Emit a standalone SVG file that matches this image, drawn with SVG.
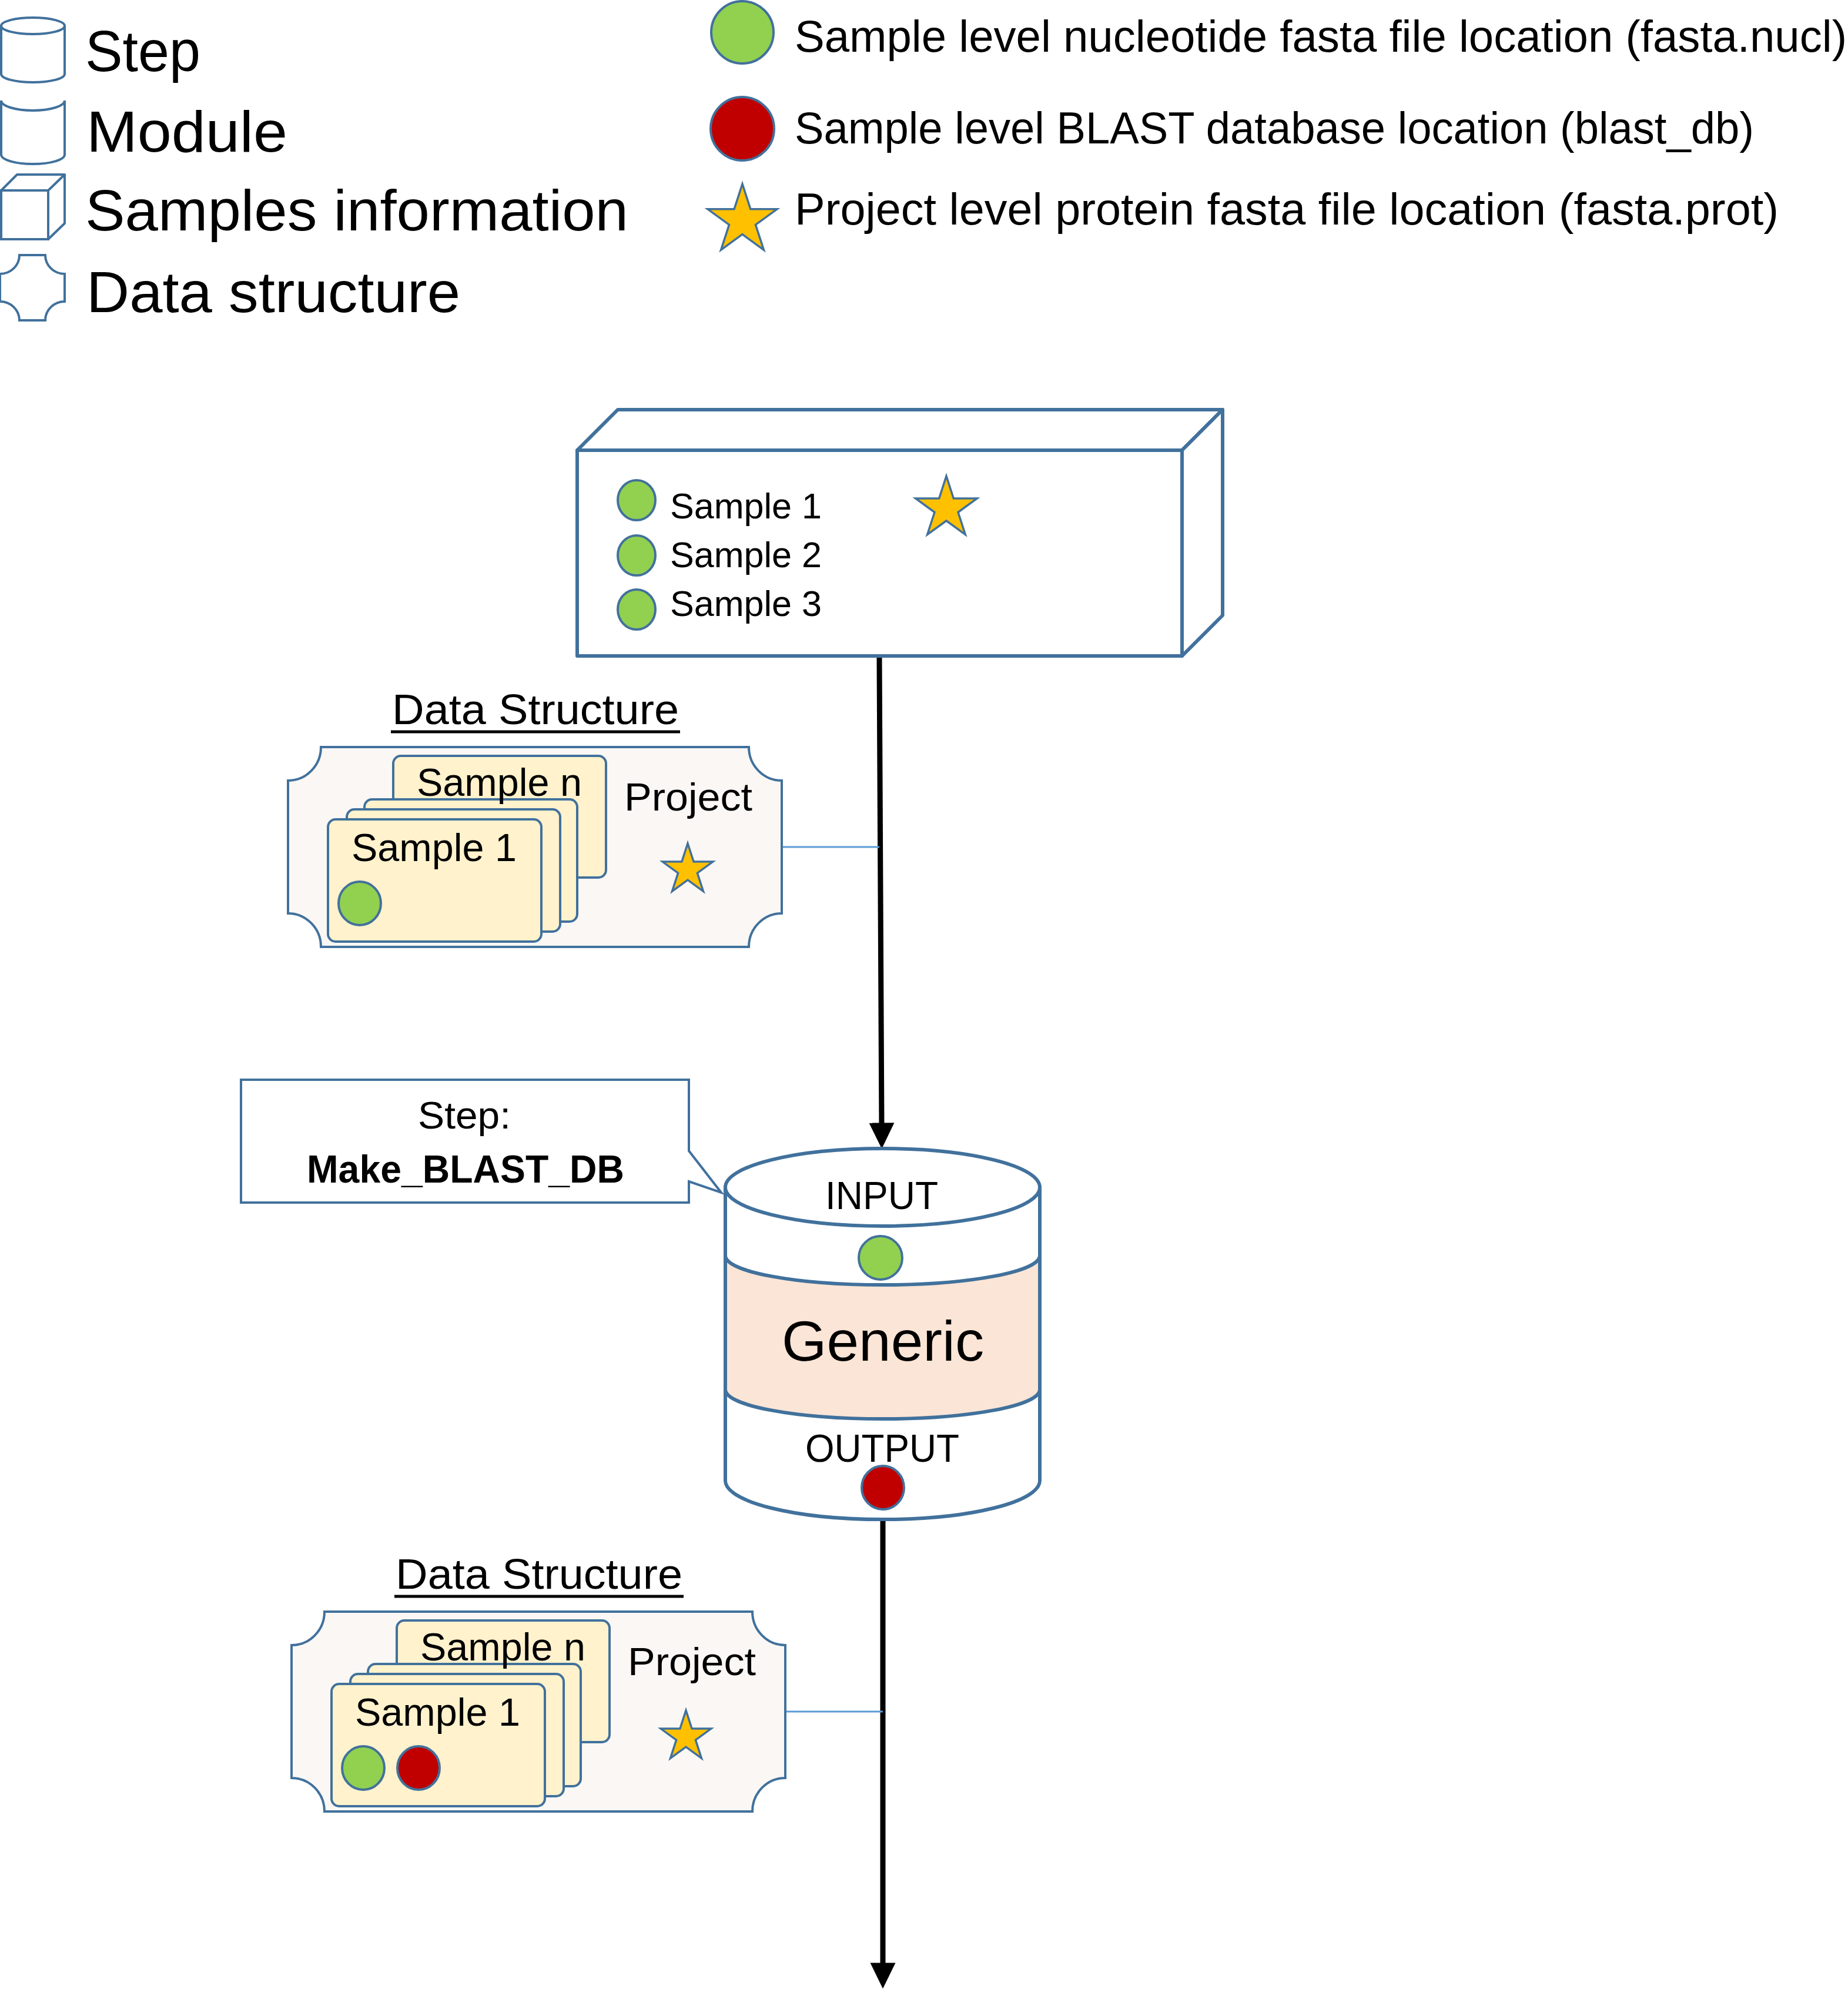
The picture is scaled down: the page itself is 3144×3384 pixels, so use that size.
<svg xmlns="http://www.w3.org/2000/svg" width="3144" height="3384" viewBox="0 0 3144 3384">
<style>
text{font-family:"Liberation Sans",Arial,sans-serif;fill:#000}
.ol{fill:none;stroke:#41719C;stroke-width:4}
.wh{fill:#fff;stroke:#41719C;stroke-width:4}
.thick{stroke:#41719C;stroke-width:6}
.cube{fill:#fff;stroke:#41719C;stroke-width:6;stroke-linejoin:round}
.g{fill:#92D050;stroke:#41719C;stroke-width:4}
.r{fill:#C00000;stroke:#41719C;stroke-width:4}
.st{fill:#FFC000;stroke:#41719C;stroke-width:3.5;stroke-linejoin:miter}
.plaque{fill:#FAF7F5;stroke:#41719C;stroke-width:4}
.card{fill:#FFF2CC;stroke:#41719C;stroke-width:4}
.flow{stroke:#000;stroke-width:9;fill:none}
.tie{stroke:#5B9BD5;stroke-width:3;fill:none}
.ul{stroke:#000;stroke-width:5}
</style>
<defs>
<marker id="arr" markerUnits="userSpaceOnUse" markerWidth="44" markerHeight="44" viewBox="0 0 42 41" refX="12" refY="20.5" orient="auto">
<path d="M0,0 L42,20.5 L0,41 Z" fill="#000"/>
</marker>
</defs>

<g id="legend">
<g id="legend-step">
<path class="wh" d="M2,44 L2,126 A54,14 0 0 0 110,126 L110,44"/>
<ellipse class="wh" cx="56" cy="44" rx="54" ry="14"/>
<text x="145" y="121" font-size="98" textLength="196" lengthAdjust="spacingAndGlyphs">Step</text>
</g>
<g id="legend-module">
<path class="ol" d="M2,171 L2,263 A54,16 0 0 0 110,263 L110,171"/>
<path class="ol" d="M2,171 A54,17 0 0 0 110,171"/>
<text x="147" y="258" font-size="98" textLength="342" lengthAdjust="spacingAndGlyphs">Module</text>
</g>
<g id="legend-samples">
<rect class="ol" x="2" y="324" width="80" height="83"/>
<path class="ol" stroke-linejoin="round" d="M2,324 L29,297 L110,297 L82,324 M110,297 L110,380 L82,407"/>
<text x="145" y="392" font-size="98" textLength="924" lengthAdjust="spacingAndGlyphs">Samples information</text>
</g>
<g id="legend-datastructure">
<path class="ol" d="M33,434 L77,434 A33,32 0 0 0 110,466 L110,513 A33,32 0 0 0 77,545 L33,545 A33,32 0 0 0 0,513 L0,466 A33,32 0 0 0 33,434 Z"/>
<text x="147" y="531" font-size="98" textLength="636" lengthAdjust="spacingAndGlyphs">Data structure</text>
</g>
<g id="legend-nucl">
<circle class="g" cx="1263" cy="55" r="53"/>
<text x="1352" y="88" font-size="76" textLength="1790" lengthAdjust="spacingAndGlyphs">Sample level nucleotide fasta file location (fasta.nucl)</text>
</g>
<g id="legend-blast">
<circle class="r" cx="1263" cy="219" r="54"/>
<text x="1352" y="244" font-size="76" textLength="1632" lengthAdjust="spacingAndGlyphs">Sample level BLAST database location (blast_db)</text>
</g>
<g id="legend-prot">
<polygon class="st" points="1263,313 1276.9,355.8 1322,355.8 1285.5,382.3 1299.4,425.2 1263,398.7 1226.6,425.2 1240.5,382.3 1204,355.8 1249.1,355.8"/>
<text x="1352" y="382" font-size="76" textLength="1674" lengthAdjust="spacingAndGlyphs">Project level protein fasta file location (fasta.prot)</text>
</g>
</g>

<g id="connectors">
<line class="flow" x1="1496" y1="1116" x2="1500" y2="1923" marker-end="url(#arr)"/>
<line class="flow" x1="1502" y1="2586" x2="1502" y2="3352" marker-end="url(#arr)"/>
<line class="tie" x1="1330" y1="1441" x2="1496" y2="1441"/>
<line class="tie" x1="1336" y1="2912" x2="1502" y2="2912"/>
</g>

<g id="samples-info">
<rect class="cube" x="982" y="766" width="1029" height="350"/>
<path class="cube" d="M982,766 L1051,697 L2080,697 L2011,766 Z"/>
<path class="cube" d="M2011,766 L2080,697 L2080,1047 L2011,1116 Z"/>
<ellipse class="g" cx="1083" cy="851" rx="32" ry="34"/>
<ellipse class="g" cx="1083" cy="945" rx="32" ry="34"/>
<ellipse class="g" cx="1083" cy="1037" rx="32" ry="34"/>
<text x="1140" y="882" font-size="62" textLength="258" lengthAdjust="spacingAndGlyphs">Sample 1</text>
<text x="1140" y="965" font-size="62" textLength="258" lengthAdjust="spacingAndGlyphs">Sample 2</text>
<text x="1140" y="1048" font-size="62" textLength="258" lengthAdjust="spacingAndGlyphs">Sample 3</text>
<polygon class="st" points="1610,810 1622.3,848 1662.3,848 1630,871.5 1642.3,909.5 1610,886 1577.7,909.5 1590,871.5 1557.7,848 1597.7,848"/>
</g>

<g id="data-structure-1">
<text x="667" y="1232" font-size="72" textLength="488" lengthAdjust="spacingAndGlyphs">Data Structure</text>
<line class="ul" x1="665" y1="1245" x2="1157" y2="1245"/>
<path class="plaque" d="M546,1271 L1274,1271 A56,57 0 0 0 1330,1328 L1330,1554 A56,57 0 0 0 1274,1611 L546,1611 A56,57 0 0 0 490,1554 L490,1328 A56,57 0 0 0 546,1271 Z"/>
<rect class="card" x="669" y="1286" width="362" height="207" rx="13"/>
<rect class="card" x="620" y="1360" width="362" height="208" rx="13"/>
<rect class="card" x="590" y="1377" width="363" height="208" rx="13"/>
<rect class="card" x="558" y="1394" width="363" height="208" rx="13"/>
<text x="709" y="1354" font-size="66" textLength="281" lengthAdjust="spacingAndGlyphs">Sample n</text>
<text x="598" y="1465" font-size="66" textLength="281" lengthAdjust="spacingAndGlyphs">Sample 1</text>
<text x="1062" y="1379" font-size="66" textLength="218" lengthAdjust="spacingAndGlyphs">Project</text>
<ellipse class="g" cx="612" cy="1537" rx="36" ry="37"/>
<polygon class="st" points="1170,1435 1180.1,1466.1 1212.8,1466.1 1186.4,1485.3 1196.5,1516.4 1170,1497.2 1143.5,1516.4 1153.6,1485.3 1127.2,1466.1 1159.9,1466.1"/>
</g>

<g id="callout">
<path class="wh" d="M410,1837 L1172,1837 L1172,1958 L1227,2029 L1172,2010 L1172,2046 L410,2046 Z"/>
<text x="711" y="1920" font-size="64" textLength="158" lengthAdjust="spacingAndGlyphs">Step:</text>
<text x="522" y="2012" font-size="66" font-weight="bold" textLength="540" lengthAdjust="spacingAndGlyphs">Make_BLAST_DB</text>
</g>

<g id="step-generic">
<path fill="#fff" stroke="none" d="M1234,2020 L1234,2519 A267,66 0 0 0 1769,2519 L1769,2020 Z"/>
<path fill="#FBE5D6" stroke="none" d="M1234,2136 A267,50 0 0 0 1769,2136 L1769,2364 A267,50 0 0 1 1234,2364 Z"/>
<path fill="none" class="thick" d="M1234,2136 A267,50 0 0 0 1769,2136 M1234,2364 A267,50 0 0 0 1769,2364"/>
<path fill="none" class="thick" d="M1234,2020 L1234,2519 A267,66 0 0 0 1769,2519 L1769,2020"/>
<ellipse class="wh thick" cx="1501.5" cy="2020" rx="267.5" ry="66"/>
<text x="1404" y="2057" font-size="66" textLength="192" lengthAdjust="spacingAndGlyphs">INPUT</text>
<ellipse class="g" cx="1498" cy="2140" rx="37" ry="37"/>
<text x="1330" y="2315" font-size="96" textLength="344" lengthAdjust="spacingAndGlyphs">Generic</text>
<text x="1370" y="2487" font-size="66" textLength="262" lengthAdjust="spacingAndGlyphs">OUTPUT</text>
<ellipse class="r" cx="1502" cy="2531" rx="36" ry="37"/>
</g>

<g id="data-structure-2" transform="translate(6,1471)">
<text x="667" y="1232" font-size="72" textLength="488" lengthAdjust="spacingAndGlyphs">Data Structure</text>
<line class="ul" x1="665" y1="1245" x2="1157" y2="1245"/>
<path class="plaque" d="M546,1271 L1274,1271 A56,57 0 0 0 1330,1328 L1330,1554 A56,57 0 0 0 1274,1611 L546,1611 A56,57 0 0 0 490,1554 L490,1328 A56,57 0 0 0 546,1271 Z"/>
<rect class="card" x="669" y="1286" width="362" height="207" rx="13"/>
<rect class="card" x="620" y="1360" width="362" height="208" rx="13"/>
<rect class="card" x="590" y="1377" width="363" height="208" rx="13"/>
<rect class="card" x="558" y="1394" width="363" height="208" rx="13"/>
<text x="709" y="1354" font-size="66" textLength="281" lengthAdjust="spacingAndGlyphs">Sample n</text>
<text x="598" y="1465" font-size="66" textLength="281" lengthAdjust="spacingAndGlyphs">Sample 1</text>
<text x="1062" y="1379" font-size="66" textLength="218" lengthAdjust="spacingAndGlyphs">Project</text>
<ellipse class="g" cx="612" cy="1537" rx="36" ry="37"/>
<ellipse class="r" cx="706" cy="1537" rx="36" ry="37"/>
<polygon class="st" transform="translate(-9,4)" points="1170,1435 1180.1,1466.1 1212.8,1466.1 1186.4,1485.3 1196.5,1516.4 1170,1497.2 1143.5,1516.4 1153.6,1485.3 1127.2,1466.1 1159.9,1466.1"/>
</g>
</svg>
